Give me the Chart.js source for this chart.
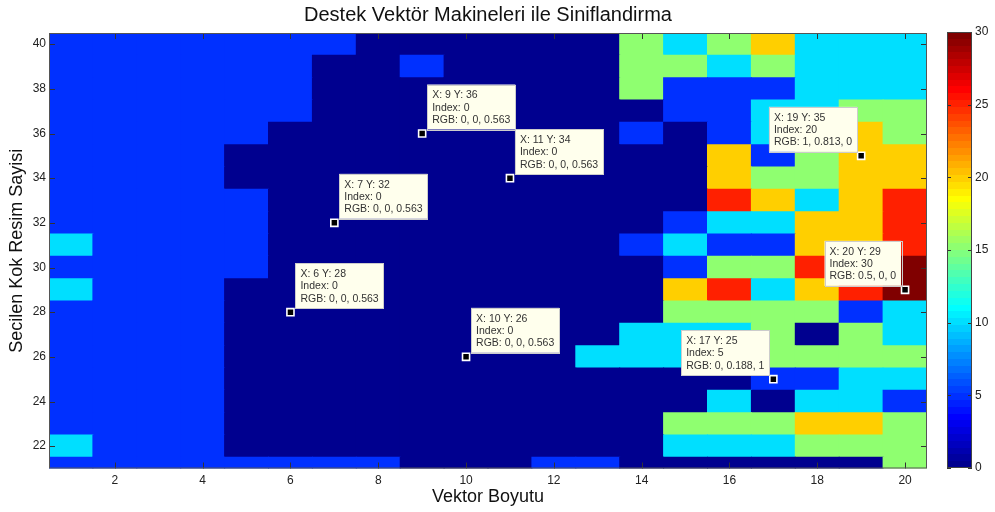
<!DOCTYPE html>
<html>
<head>
<meta charset="utf-8">
<script src="https://cdn.jsdelivr.net/npm/chart.js"></script>
<style>
  html, body { margin: 0; padding: 0; background: #fff; }
  #wrap { position: relative; width: 995px; height: 512px; }
  #heat { position: absolute; left: 0; top: 0; }
  #cbar { position: absolute; left: 940px; top: 0; }
</style>
</head>
<body>
<div id="wrap">
  <canvas id="heat" width="995" height="512"></canvas>
  <canvas id="cbar" width="55" height="512"></canvas>
</div>
<script>
const chartTitle = "Destek Vektör Makineleri ile Siniflandirma";

// columns (Vektor Boyutu) and rows (Secilen Kok Resim Sayisi), rows listed top to bottom
const vectorSizes = [1, 2, 3, 4, 5, 6, 7, 8, 9, 10, 11, 12, 13, 14, 15, 16, 17, 18, 19, 20];
const imageCounts = [40, 39, 38, 37, 36, 35, 34, 33, 32, 31, 30, 29, 28, 27, 26, 25, 24, 23, 22, 21];

// cell values (colour index 0..30), one row per entry of imageCounts
const cellValues = [
  [5, 5, 5, 5, 5, 5, 5, 0, 0, 0, 0, 0, 0, 15, 10, 15, 20, 10, 10, 10],
  [5, 5, 5, 5, 5, 5, 0, 0, 5, 0, 0, 0, 0, 15, 15, 10, 15, 10, 10, 10],
  [5, 5, 5, 5, 5, 5, 0, 0, 0, 0, 0, 0, 0, 15, 5, 5, 5, 10, 10, 10],
  [5, 5, 5, 5, 5, 5, 0, 0, 0, 0, 0, 0, 0, 0, 5, 5, 10, 10, 15, 15],
  [5, 5, 5, 5, 5, 0, 0, 0, 0, 0, 0, 0, 0, 5, 0, 5, 10, 15, 20, 15],
  [5, 5, 5, 5, 0, 0, 0, 0, 0, 0, 0, 0, 0, 0, 0, 20, 5, 15, 20, 20],
  [5, 5, 5, 5, 0, 0, 0, 0, 0, 0, 0, 0, 0, 0, 0, 20, 15, 15, 20, 20],
  [5, 5, 5, 5, 5, 0, 0, 0, 0, 0, 0, 0, 0, 0, 0, 25, 20, 10, 20, 25],
  [5, 5, 5, 5, 5, 0, 0, 0, 0, 0, 0, 0, 0, 0, 5, 10, 10, 20, 20, 25],
  [10, 5, 5, 5, 5, 0, 0, 0, 0, 0, 0, 0, 0, 5, 10, 5, 5, 20, 20, 25],
  [5, 5, 5, 5, 5, 0, 0, 0, 0, 0, 0, 0, 0, 0, 5, 15, 15, 25, 25, 30],
  [10, 5, 5, 5, 0, 0, 0, 0, 0, 0, 0, 0, 0, 0, 20, 25, 10, 20, 25, 30],
  [5, 5, 5, 5, 0, 0, 0, 0, 0, 0, 0, 0, 0, 0, 15, 15, 15, 15, 5, 10],
  [5, 5, 5, 5, 0, 0, 0, 0, 0, 0, 0, 0, 0, 10, 10, 10, 15, 0, 15, 10],
  [5, 5, 5, 5, 0, 0, 0, 0, 0, 0, 0, 0, 10, 10, 10, 15, 15, 15, 15, 15],
  [5, 5, 5, 5, 0, 0, 0, 0, 0, 0, 0, 0, 0, 0, 0, 0, 5, 5, 10, 10],
  [5, 5, 5, 5, 0, 0, 0, 0, 0, 0, 0, 0, 0, 0, 0, 10, 0, 10, 10, 5],
  [5, 5, 5, 5, 0, 0, 0, 0, 0, 0, 0, 0, 0, 0, 15, 15, 15, 20, 20, 15],
  [10, 5, 5, 5, 0, 0, 0, 0, 0, 0, 0, 0, 0, 0, 10, 10, 10, 15, 15, 15],
  [5, 5, 5, 5, 5, 5, 5, 5, 0, 0, 0, 5, 5, 0, 0, 0, 0, 0, 0, 15]
];

const xTicks = [2, 4, 6, 8, 10, 12, 14, 16, 18, 20];
const yTicks = [22, 24, 26, 28, 30, 32, 34, 36, 38, 40];
const colorTicks = [0, 5, 10, 15, 20, 25, 30];

// data tips
const tipX = [9, 11, 7, 6, 10, 19, 20, 17];
const tipY = [36, 34, 32, 28, 26, 35, 29, 25];

// which side of the marker each tip box sits on
const tipSide = ["right", "right", "right", "right", "right", "left", "left", "left"];

Chart.defaults.font.family = "'Liberation Sans', Arial, sans-serif";

// MATLAB jet(64)
const jetSize = 64;
function jetU(k) {
  if (k < 1 || k > 47) return 0;
  if (k <= 16) return k / 16;
  if (k <= 31) return 1;
  return (48 - k) / 16;
}
function jetRow(i) {
  return [jetU(i - 24), jetU(i - 8), jetU(i + 8)];
}
function valueRow(v) {
  const lo = colorTicks[0], hi = colorTicks[colorTicks.length - 1];
  return Math.min(jetSize, Math.floor((v - lo) / (hi - lo) * jetSize) + 1);
}
function rgbCss(c) {
  return "rgb(" + c.map(t => Math.round(t * 255)).join(",") + ")";
}

const cells = [];
imageCounts.forEach((yv, r) => {
  vectorSizes.forEach((xv, c) => {
    cells.push({ x: xv, y: [yv - 0.5, yv + 0.5], v: cellValues[r][c] });
  });
});

const frameTicks = {
  id: "frameTicks",
  afterDatasetsDraw(chart) {
    const { ctx, chartArea: a, scales } = chart;
    ctx.save();
    ctx.strokeStyle = "#333";
    ctx.lineWidth = 1;
    ctx.beginPath();
    xTicks.forEach(v => {
      const px = Math.round(scales.x.getPixelForValue(v)) + 0.5;
      ctx.moveTo(px, a.bottom); ctx.lineTo(px, a.bottom - 6);
      ctx.moveTo(px, a.top); ctx.lineTo(px, a.top + 6);
    });
    yTicks.forEach(v => {
      const py = Math.round(scales.y.getPixelForValue(v)) + 0.5;
      ctx.moveTo(a.left, py); ctx.lineTo(a.left + 6, py);
      ctx.moveTo(a.right, py); ctx.lineTo(a.right - 6, py);
    });
    ctx.stroke();
    ctx.strokeStyle = "#555";
    ctx.strokeRect(a.left + 0.5, a.top + 0.5, a.width - 1, a.height - 1);
    ctx.restore();
  }
};

function tipLines(i) {
  const v = cellValues[imageCounts.indexOf(tipY[i])][vectorSizes.indexOf(tipX[i])];
  const rgb = jetRow(valueRow(v)).map(c => String(parseFloat(c.toPrecision(3))));
  return ["X: " + tipX[i] + " Y: " + tipY[i], "Index: " + v, "RGB: " + rgb.join(", ")];
}

const dataTips = {
  id: "dataTips",
  afterDatasetsDraw(chart) {
    const { ctx, scales } = chart;
    ctx.save();
    ctx.font = "10.5px 'Liberation Sans', Arial, sans-serif";
    ctx.textBaseline = "middle";
    tipX.forEach((xv, i) => {
      const mx = scales.x.getPixelForValue(xv);
      const my = scales.y.getPixelForValue(tipY[i]);
      const lines = tipLines(i);
      const w = Math.max(...lines.map(t => ctx.measureText(t).width)) + 10;
      const h = 45;
      const left = tipSide[i] === "right" ? mx + 5 : mx - 4 - w;
      const top = my - 4 - h;
      ctx.fillStyle = "#FFFFED";
      ctx.fillRect(left, top, w, h);
      ctx.strokeStyle = "#CCCCCC";
      ctx.lineWidth = 1;
      ctx.strokeRect(Math.round(left) + 0.5, Math.round(top) + 0.5, Math.round(w), Math.round(h));
      ctx.fillStyle = "#333";
      lines.forEach((t, k) => ctx.fillText(t, left + 5, top + 11 + k * 12.3));
    });
    ctx.restore();
  }
};

new Chart(document.getElementById("heat"), {
  type: "bar",
  data: {
    datasets: [
      {
        type: "scatter",
        data: tipX.map((xv, i) => ({ x: xv, y: tipY[i] })),
        pointStyle: "rect",
        pointRadius: 5,
        backgroundColor: "#000",
        borderColor: "#fff",
        borderWidth: 1.6,
        order: 0
      },
      {
        data: cells,
        backgroundColor: ctx => rgbCss(jetRow(valueRow(ctx.raw.v))),
        borderWidth: 0,
        barPercentage: 1,
        categoryPercentage: 1,
        inflateAmount: 0.5,
        clip: 0,
        order: 1
      }
    ]
  },
  options: {
    responsive: false,
    animation: false,
    events: [],
    layout: { padding: { left: 0, right: 68, top: 0, bottom: 0 } },
    plugins: {
      legend: { display: false },
      tooltip: { enabled: false },
      title: {
        display: true,
        text: chartTitle,
        fullSize: false,
        color: "#111",
        font: { size: 20, weight: "normal" },
        padding: { top: 3, bottom: 6 }
      }
    },
    scales: {
      x: {
        type: "linear",
        min: 0.5,
        max: 20.5,
        offset: false,
        grid: { display: false, drawTicks: false },
        border: { display: false },
        afterBuildTicks: s => { s.ticks = xTicks.map(v => ({ value: v })); },
        afterFit: s => { s.height = 43.5; },
        ticks: { padding: 5, color: "#222", font: { size: 12 } },
        title: { display: true, text: "Vektor Boyutu", color: "#111", font: { size: 18 }, padding: { top: 0, bottom: 3.7 } }
      },
      y: {
        type: "linear",
        min: 21,
        max: 40.5,
        grid: { display: false, drawTicks: false },
        border: { display: false },
        afterBuildTicks: s => { s.ticks = yTicks.map(v => ({ value: v })); },
        afterFit: s => { s.width = 49; },
        ticks: { padding: 3, color: "#222", font: { size: 12 } },
        title: { display: true, text: "Secilen Kok Resim Sayisi", color: "#111", font: { size: 18 }, padding: { top: 6.2, bottom: 0 } }
      }
    }
  },
  plugins: [frameTicks, dataTips]
});

// colour bar
const barFrame = {
  id: "barFrame",
  afterDatasetsDraw(chart) {
    const { ctx, chartArea: a, scales } = chart;
    ctx.save();
    ctx.strokeStyle = "#333";
    ctx.lineWidth = 1;
    ctx.beginPath();
    colorTicks.forEach(v => {
      const py = Math.round(scales.y.getPixelForValue(v)) + 0.5;
      ctx.moveTo(a.left, py); ctx.lineTo(a.left + 4, py);
      ctx.moveTo(a.right, py); ctx.lineTo(a.right - 4, py);
    });
    ctx.stroke();
    ctx.strokeStyle = "#444";
    ctx.strokeRect(a.left + 0.5, a.top + 0.5, a.width - 1, a.height - 1);
    ctx.restore();
  }
};

function jetGradient(context) {
  const { chart } = context;
  const { ctx, chartArea, scales } = chart;
  if (!chartArea) return null;
  const y0 = scales.y.getPixelForValue(colorTicks[0]);
  const y1 = scales.y.getPixelForValue(colorTicks[colorTicks.length - 1]);
  const g = ctx.createLinearGradient(0, y0, 0, y1);
  for (let i = 1; i <= jetSize; i++) {
    const col = rgbCss(jetRow(i));
    g.addColorStop((i - 1) / jetSize, col);
    g.addColorStop(i / jetSize, col);
  }
  return g;
}

new Chart(document.getElementById("cbar"), {
  type: "bar",
  data: {
    labels: [""],
    datasets: [{
      data: [[colorTicks[0], colorTicks[colorTicks.length - 1]]],
      backgroundColor: jetGradient,
      borderWidth: 0,
      barPercentage: 1,
      categoryPercentage: 1
    }]
  },
  options: {
    responsive: false,
    animation: false,
    events: [],
    layout: { padding: { left: 7, right: 0, top: 32, bottom: 44 } },
    plugins: { legend: { display: false }, tooltip: { enabled: false } },
    scales: {
      x: { display: false },
      y: {
        position: "right",
        min: colorTicks[0],
        max: colorTicks[colorTicks.length - 1],
        grid: { display: false, drawTicks: false },
        border: { display: false },
        afterBuildTicks: s => { s.ticks = colorTicks.map(v => ({ value: v })); },
        afterFit: s => { s.width = 23; },
        ticks: { padding: 3, color: "#222", font: { size: 12 } }
      }
    }
  },
  plugins: [barFrame]
});
</script>
</body>
</html>
